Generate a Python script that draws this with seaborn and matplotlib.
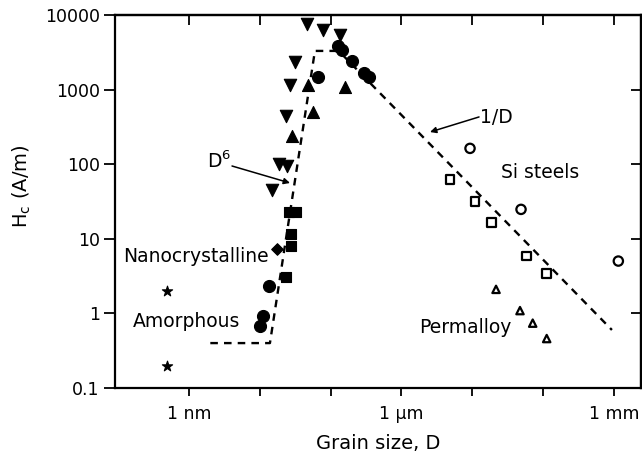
import matplotlib
matplotlib.use("Agg")
import matplotlib.pyplot as plt
import numpy as np
import pandas as pd
import seaborn as sns

# grain size in nm, coercivity in A/m
amorph_d = [0.49, 0.49]
amorph_hc = [2.0, 0.2]

circ_d = [9.9, 11.2, 13.6, 67, 127, 143, 200, 301, 349]
circ_hc = [0.68, 0.92, 2.3, 1475, 3840, 3400, 2415, 1645, 1475]

down_d = [46.9, 78.9, 133.6, 31.4, 26.7, 23.4, 14.7, 18.7, 24.2]
down_hc = [7570, 6290, 5390, 2365, 1153, 443, 45, 100.7, 94.6]

up_d = [48.4, 57, 28.5, 160]
up_hc = [1153, 506, 239, 1084]

sq_d = [25.9, 32.5, 27.6, 27.6, 23.1]
sq_hc = [22.9, 22.9, 11.6, 8.0, 3.08]

dia_d = [17.5]
dia_hc = [7.3]

si_circ_d = [9310, 48900, 1.158e6]
si_circ_hc = [163, 24.8, 5.03]

si_sq_d = [4860, 10960, 18850, 58900, 112700]
si_sq_hc = [62.8, 31.4, 16.4, 5.88, 3.46]

perm_d = [21700, 47300, 71500, 112700]
perm_hc = [2.10, 1.09, 0.74, 0.46]

# guide line: flat, D^6 rise, plateau, 1/D fall
guide_d = [2.0, 13.9, 60, 130, 9.4e5]
guide_hc = [0.4, 0.4, 3300, 3300, 0.6]

x_ticks = [1, 10, 100, 1e3, 1e4, 1e5, 1e6]
x_ticklabels = ["1 nm", "", "", "1 µm", "", "", "1 mm"]
y_ticks = [0.1, 1, 10, 100, 1000, 10000]
y_ticklabels = ["0.1", "1", "10", "100", "1000", "10000"]

sns.set_style("ticks", rc={"axes.edgecolor": "black", "text.color": "black",
                           "axes.labelcolor": "black", "xtick.color": "black",
                           "ytick.color": "black"})
plt.rcParams["font.family"] = ["DejaVu Sans"]

fig = plt.figure(figsize=(6.42, 4.53), dpi=100)
ax = fig.add_axes([115 / 642, 1 - 388 / 453, 526 / 642, 373 / 453])
ax.set_xscale("log")
ax.set_yscale("log")

guide = pd.DataFrame({"D": guide_d, "Hc": guide_hc})
sns.lineplot(data=guide, x="D", y="Hc", sort=False, estimator=None, ax=ax,
             color="black", lw=1.7, linestyle=(0, (3.2, 2.6)))

filled = [
    (amorph_d, amorph_hc, "*", 60),
    (circ_d, circ_hc, "o", 75),
    (down_d, down_hc, "v", 80),
    (up_d, up_hc, "^", 75),
    (sq_d, sq_hc, "s", 55),
    (dia_d, dia_hc, "D", 35),
]
for d, hc, m, s in filled:
    sns.scatterplot(x=d, y=hc, marker=m, s=s, color="black",
                    edgecolor="black", linewidth=0.8, ax=ax, zorder=3)

hollow = [
    (si_circ_d, si_circ_hc, "o", 45),
    (si_sq_d, si_sq_hc, "s", 40),
    (perm_d, perm_hc, "^", 28),
]
for d, hc, m, s in hollow:
    sns.scatterplot(x=d, y=hc, marker=m, s=s, facecolor="none",
                    edgecolor="black", linewidth=1.6, ax=ax, zorder=3)

ax.set_xlim(0.0901, 2.42e6)
ax.set_ylim(0.1, 10000)

fs = 13.5
ax.text(0.117, 4.9, "Nanocrystalline", fontsize=fs, ha="left", va="baseline")
ax.text(0.162, 0.664, "Amorphous", fontsize=fs, ha="left", va="baseline")
ax.text(1.78, 88, "D$^6$", fontsize=fs, ha="left", va="baseline")
ax.text(12900, 353, "1/D", fontsize=fs, ha="left", va="baseline")
ax.text(25300, 64.7, "Si steels", fontsize=fs, ha="left", va="baseline")
ax.text(1773, 0.54, "Permalloy", fontsize=fs, ha="left", va="baseline")

arrow = dict(arrowstyle="-|>", color="black", lw=1.1, mutation_scale=9,
             shrinkA=0, shrinkB=0)
ax.annotate("", xy=(26.7, 56), xytext=(4.05, 94.6), arrowprops=arrow)
ax.annotate("", xy=(2535, 270), xytext=(12480, 430), arrowprops=arrow)

ax.set_xticks(x_ticks)
ax.set_xticklabels(x_ticklabels)
ax.set_yticks(y_ticks)
ax.set_yticklabels(y_ticklabels)
ax.minorticks_off()
ax.tick_params(axis="x", direction="out", length=6, width=1.3,
               labelsize=12.5, pad=6)
ax.tick_params(axis="y", direction="out", length=8, width=1.3,
               labelsize=12.5, pad=3)

top = ax.secondary_xaxis("top")
top.set_xticks(x_ticks)
top.set_xticklabels([])
top.minorticks_off()
top.tick_params(direction="in", length=7, width=1.3)
right = ax.secondary_yaxis("right")
right.set_yticks(y_ticks)
right.set_yticklabels([])
right.minorticks_off()
right.tick_params(direction="in", length=7, width=1.3)

for sp in ax.spines.values():
    sp.set_linewidth(1.6)
    sp.set_visible(True)
for sax in (top, right):
    for sp in sax.spines.values():
        sp.set_linewidth(1.6)

ax.set_xlabel("Grain size, D", fontsize=14, labelpad=8)
ax.set_ylabel("H$_\\mathrm{c}$ (A/m)", fontsize=14, labelpad=10)
ax.yaxis.set_label_coords(-0.155, 0.54)

fig.savefig("out.png", dpi=100)
